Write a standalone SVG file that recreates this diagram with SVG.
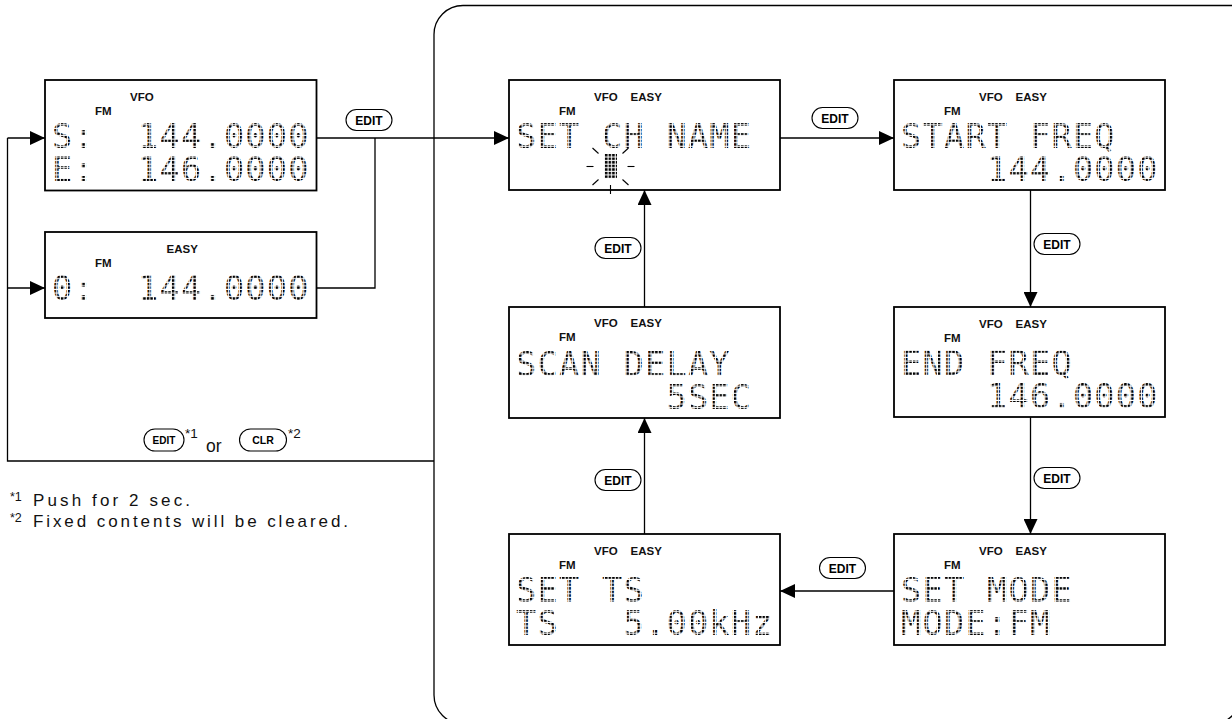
<svg xmlns="http://www.w3.org/2000/svg" width="1232" height="719" viewBox="0 0 1232 719">
<defs>
  <pattern id="dots" width="3.58" height="3.58" patternUnits="userSpaceOnUse">
    <rect width="2.5" height="2.5" fill="#000"/>
  </pattern>
  <marker id="arr" markerUnits="userSpaceOnUse" markerWidth="16" markerHeight="14" refX="15" refY="7" orient="auto">
    <path d="M0,0 L15,7 L0,14 Z" fill="#000"/>
  </marker>
</defs>
<style>
  .box{fill:#fff;stroke:#000;stroke-width:1.8}
  .lbl{font-family:"Liberation Sans",Arial,sans-serif;font-weight:bold;font-size:11.5px;fill:#111}
  .lcd{font-family:"DejaVu Sans Mono",monospace;font-size:33.6px;letter-spacing:1.27px;fill:url(#dots);white-space:pre}
  .con{fill:none;stroke:#000;stroke-width:1.3}
  .btn{fill:#fff;stroke:#000;stroke-width:1.1}
  .btxt{font-family:"Liberation Sans",Arial,sans-serif;font-weight:bold;font-size:12px;text-anchor:middle;fill:#000}
  .note{font-family:"Liberation Sans",Arial,sans-serif;font-size:17px;fill:#111}
  .sup{font-family:"Liberation Sans",Arial,sans-serif;font-size:12.5px;fill:#111}
  .ray{stroke:#000;stroke-width:1.1}
</style>

<g id="frame">
  <path class="con" d="M1232,5.5 H463 A29,29 0 0 0 434,34.5 V695 A29,29 0 0 0 463,724 H1212 A29,29 0 0 0 1241,695"/>
</g>

<g id="connectors">
  <path class="con" d="M434,461 H7.5 V138"/>
  <path class="con" d="M7.5,138 H45" marker-end="url(#arr)"/>
  <path class="con" d="M7.5,288 H45" marker-end="url(#arr)"/>
  <path class="con" d="M316.7,288 H375 V138"/>
  <path class="con" d="M316.7,138 H509" marker-end="url(#arr)"/>
  <path class="con" d="M780,138 H894" marker-end="url(#arr)"/>
  <path class="con" d="M1030.5,190 V307" marker-end="url(#arr)"/>
  <path class="con" d="M1030.5,417 V534" marker-end="url(#arr)"/>
  <path class="con" d="M894,591 H780" marker-end="url(#arr)"/>
  <path class="con" d="M644.5,534 V418" marker-end="url(#arr)"/>
  <path class="con" d="M644.5,307 V190" marker-end="url(#arr)"/>
</g>

<g id="buttons">
  <g id="btn-edit-1"><rect class="btn" x="346" y="109.5" width="46" height="21" rx="10.5"/><text class="btxt" x="369" y="124.5">EDIT</text></g>
  <g id="btn-edit-2"><rect class="btn" x="812" y="107.5" width="46" height="21" rx="10.5"/><text class="btxt" x="835" y="122.5">EDIT</text></g>
  <g id="btn-edit-3"><rect class="btn" x="1034" y="233.5" width="46" height="21" rx="10.5"/><text class="btxt" x="1057" y="248.5">EDIT</text></g>
  <g id="btn-edit-4"><rect class="btn" x="1034" y="467.5" width="46" height="21" rx="10.5"/><text class="btxt" x="1057" y="482.5">EDIT</text></g>
  <g id="btn-edit-5"><rect class="btn" x="819.5" y="557.5" width="46" height="21" rx="10.5"/><text class="btxt" x="842.5" y="572.5">EDIT</text></g>
  <g id="btn-edit-6"><rect class="btn" x="595" y="469.5" width="46" height="21" rx="10.5"/><text class="btxt" x="618" y="484.5">EDIT</text></g>
  <g id="btn-edit-7"><rect class="btn" x="595" y="237.5" width="46" height="21" rx="10.5"/><text class="btxt" x="618" y="252.5">EDIT</text></g>
</g>

<g id="return-label">
  <rect class="btn" x="144" y="429" width="40" height="22" rx="11"/>
  <text class="btxt" x="164" y="443.5" style="font-size:10px">EDIT</text>
  <text class="sup" x="185" y="438" style="font-size:13.5px">*1</text>
  <text class="note" x="206" y="452" style="font-size:17.5px">or</text>
  <rect class="btn" x="239.5" y="429" width="47" height="22" rx="11"/>
  <text class="btxt" x="263" y="443.5" style="font-size:10.5px">CLR</text>
  <text class="sup" x="288" y="438" style="font-size:13.5px">*2</text>
</g>

<g id="footnotes">
  <text class="sup" x="10" y="501">*1</text>
  <text class="note" x="33" y="506" textLength="157" lengthAdjust="spacing">Push for 2 sec.</text>
  <text class="sup" x="10" y="522">*2</text>
  <text class="note" x="33" y="527" textLength="315" lengthAdjust="spacing">Fixed contents will be cleared.</text>
</g>

<g id="lcd-vfo">
  <rect class="box" x="45" y="80" width="271.5" height="110.5"/>
  <text class="lbl" x="130" y="101">VFO</text>
  <text class="lbl" x="95" y="115">FM</text>
  <text class="lcd" xml:space="preserve"><tspan x="52" y="148">S:  144.0000</tspan><tspan x="52" y="180.5">E:  146.0000</tspan></text>
</g>

<g id="lcd-easy">
  <rect class="box" x="45" y="232" width="271.5" height="86"/>
  <text class="lbl" x="166.5" y="253">EASY</text>
  <text class="lbl" x="95" y="267">FM</text>
  <text class="lcd" x="52" y="300" xml:space="preserve">0:  144.0000</text>
</g>

<g id="lcd-set-ch-name">
  <rect class="box" x="509" y="80" width="271" height="110"/>
  <text class="lbl" x="594" y="101">VFO</text>
  <text class="lbl" x="630.5" y="101">EASY</text>
  <text class="lbl" x="559" y="115">FM</text>
  <text class="lcd" x="516" y="148" xml:space="preserve">SET CH NAME</text>
  <rect x="604" y="154" width="13" height="24.5" fill="url(#dots)"/>
  <line class="ray" x1="586.5" y1="166.5" x2="593.5" y2="166.5"/>
  <line class="ray" x1="627.5" y1="166.5" x2="634.5" y2="166.5"/>
  <line class="ray" x1="592.5" y1="148" x2="598.5" y2="153.5"/>
  <line class="ray" x1="628.5" y1="148" x2="622.5" y2="153.5"/>
  <line class="ray" x1="592.5" y1="185" x2="598.5" y2="179.5"/>
  <line class="ray" x1="628.5" y1="185" x2="622.5" y2="179.5"/>
  <line class="ray" x1="610.5" y1="185" x2="610.5" y2="194"/>
</g>

<g id="lcd-start-freq">
  <rect class="box" x="894" y="80" width="271" height="110"/>
  <text class="lbl" x="979" y="101">VFO</text>
  <text class="lbl" x="1015.5" y="101">EASY</text>
  <text class="lbl" x="944" y="115">FM</text>
  <text class="lcd" xml:space="preserve"><tspan x="901" y="148">START FREQ</tspan><tspan x="901" y="180.5">    144.0000</tspan></text>
</g>

<g id="lcd-end-freq">
  <rect class="box" x="894" y="307" width="271" height="110"/>
  <text class="lbl" x="979" y="328">VFO</text>
  <text class="lbl" x="1015.5" y="328">EASY</text>
  <text class="lbl" x="944" y="342">FM</text>
  <text class="lcd" xml:space="preserve"><tspan x="901" y="375">END FREQ</tspan><tspan x="901" y="407.5">    146.0000</tspan></text>
</g>

<g id="lcd-set-mode">
  <rect class="box" x="894" y="534" width="271" height="111"/>
  <text class="lbl" x="979" y="555">VFO</text>
  <text class="lbl" x="1015.5" y="555">EASY</text>
  <text class="lbl" x="944" y="569">FM</text>
  <text class="lcd" xml:space="preserve"><tspan x="901" y="602">SET MODE</tspan><tspan x="901" y="634.5">MODE:FM</tspan></text>
</g>

<g id="lcd-set-ts">
  <rect class="box" x="509" y="534" width="271" height="111"/>
  <text class="lbl" x="594" y="555">VFO</text>
  <text class="lbl" x="630.5" y="555">EASY</text>
  <text class="lbl" x="559" y="569">FM</text>
  <text class="lcd" xml:space="preserve"><tspan x="516" y="602">SET TS</tspan><tspan x="516" y="634.5">TS   5.00kHz</tspan></text>
</g>

<g id="lcd-scan-delay">
  <rect class="box" x="509" y="307" width="271" height="111"/>
  <text class="lbl" x="594" y="327">VFO</text>
  <text class="lbl" x="630.5" y="327">EASY</text>
  <text class="lbl" x="559" y="341">FM</text>
  <text class="lcd" xml:space="preserve"><tspan x="516" y="376">SCAN DELAY</tspan><tspan x="516" y="408.5">       5SEC</tspan></text>
</g>
</svg>
